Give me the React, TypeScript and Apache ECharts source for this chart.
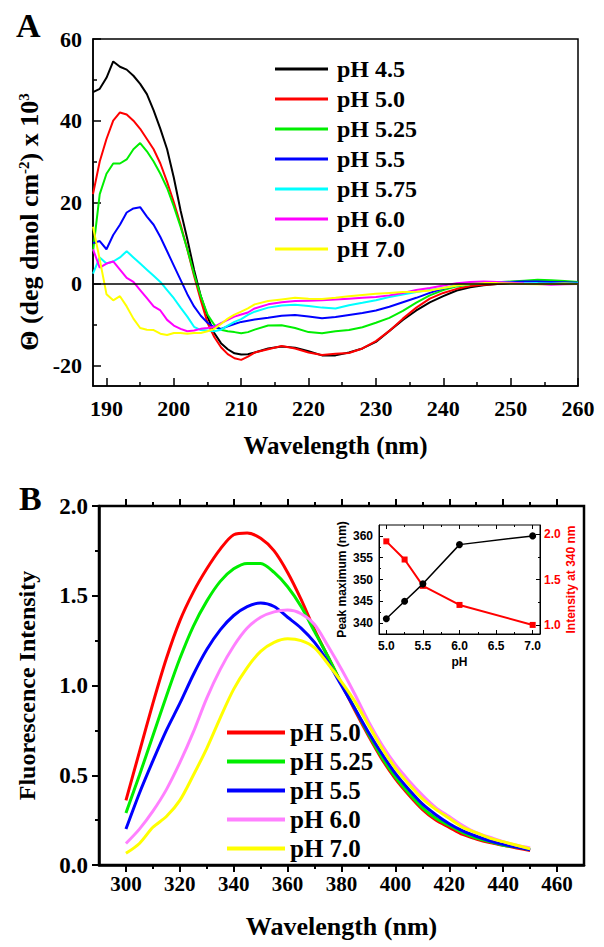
import React, { useEffect, useRef } from 'react';
import * as echarts from 'echarts';

// ---------- Panel A: CD spectra ----------
const cdWavelength = [188, 189, 190, 191, 192, 193, 194, 195, 196, 197, 198, 199, 200, 201, 202, 203, 204, 205, 206, 207, 208, 209, 210, 211, 212,
  214, 216, 218, 220, 222, 224, 226, 228, 230, 232, 234, 236, 238, 240, 242, 244, 246, 248, 250, 252, 254, 256, 258, 260];
const cdPH45 = [47, 47.8, 50.5, 54.5, 53.2, 52.5, 51, 49, 46.5, 42.5, 38, 33, 26, 18, 11, 3.5, -3, -8, -12, -14.5, -16, -17, -17.3, -17.2, -16.8,
  -15.8, -15.3, -15.6, -16.5, -17.5, -17.5, -16.8, -15.8, -14.2, -11.5, -8.8, -6.5, -4.5, -3, -1.6, -0.8, -0.3, 0, 0.2, 0.4, 0.5, 0.4, 0.3, 0.2];
const cdPH50 = [22, 30, 35.5, 40, 42, 41.5, 40, 38, 35.5, 33, 29.5, 25, 20, 14.5, 8.5, 2, -4, -9.5, -13, -15.5, -17.2, -18.2, -18.6, -17.8, -16.8,
  -16, -15.2, -15.8, -16.8, -17.4, -17.1, -16.9, -15.8, -14, -11.5, -8.5, -5.8, -3.6, -2.2, -1.2, -0.5, -0.2, 0, 0.3, 0.5, 0.6, 0.5, 0.4, 0.3];
const cdPH525 = [8, 22, 27, 29.5, 29.5, 30.5, 33, 34.5, 32.5, 30, 27, 23.5, 19, 14, 8.5, 2.5, -3, -7.5, -10, -11.2, -11.6, -11.8, -12.1, -11.8, -11.2,
  -10.2, -10.1, -10.8, -11.8, -12.1, -11.6, -11.3, -10.6, -9.5, -8.3, -6.6, -4.6, -2.8, -1.5, -0.6, -0.1, 0.2, 0.4, 0.6, 0.8, 1.0, 0.9, 0.7, 0.5];
const cdPH55 = [10, 10.5, 8.5, 12, 14.5, 17.5, 18.5, 18.8, 16.5, 14.5, 11.5, 8, 4.5, 1, -2.5, -5.5, -7.8, -9.5, -10.6, -11, -10.4, -9.8, -9.3, -9, -8.7,
  -8.3, -7.8, -7.6, -8, -8.4, -8.1, -7.6, -7.1, -6.5, -5.6, -4.5, -3.4, -2.2, -1.1, -0.3, 0.2, 0.4, 0.5, 0.5, 0.6, 0.6, 0.5, 0.4, 0.3];
const cdPH575 = [2.5, 6.5, 5, 5.5, 6.5, 8, 6.5, 5, 3.5, 2, 0.5, -1.5, -3.5, -5.8, -8, -10.5, -11.3, -11.4, -11.6, -11.2, -10.2, -9.3, -8.6, -7.6, -6.8,
  -5.8, -5.3, -5.1, -5.4, -5.8, -6.0, -5.2, -4.6, -4.0, -3.2, -2.6, -2.0, -1.5, -1.0, -0.4, 0, 0.3, 0.4, 0.3, 0.2, 0.2, 0.1, 0.1, 0.1];
const cdPH60 = [8.5, 4, 5, 5.5, 3.5, 1.5, 0.5, -1.5, -3.5, -5.5, -6.5, -8.8, -10.2, -11, -11.6, -11.4, -11, -10.8, -10.5, -9.6, -8.8, -8.0, -7.5, -7, -6,
  -5, -4.5, -4.2, -4.1, -4, -3.8, -3.6, -3.4, -3.2, -2.8, -2.2, -1.5, -1, -0.4, 0.2, 0.5, 0.6, 0.5, 0.3, 0.1, 0, -0.2, -0.1, 0];
const cdPH70 = [14, 6, -2.5, -4, -3, -5.5, -8.5, -10.8, -11.2, -11.3, -12.2, -12.5, -12, -12, -12.2, -12, -12, -11.6, -11, -9.8, -8.5, -7.5, -6.8, -6, -5,
  -4.2, -3.8, -3.4, -3.6, -3.7, -3.4, -3, -2.7, -2.4, -2.2, -2, -1.9, -1.6, -1, -0.4, 0, 0.2, 0.2, 0.1, 0, -0.1, 0, 0.1, 0];

const cdNames = ['pH 4.5', 'pH 5.0', 'pH 5.25', 'pH 5.5', 'pH 5.75', 'pH 6.0', 'pH 7.0'];
const cdColors = ['#000000', '#ff0000', '#00ee00', '#0000ff', '#00ffff', '#ff00ff', '#ffff00'];
const cdSeries = [cdPH45, cdPH50, cdPH525, cdPH55, cdPH575, cdPH60, cdPH70];

const aXTicks = [190, 200, 210, 220, 230, 240, 250, 260];
const aXMinor = [195, 205, 215, 225, 235, 245, 255];
const aYTicks = [-20, 0, 20, 40, 60];
const aYMinor = [-10, 10, 30, 50];

// ---------- Panel B: fluorescence ----------
const flWavelength = [300, 305, 310, 315, 320, 325, 330, 335, 340, 345, 350, 355, 360, 365, 370, 375, 380, 385, 390, 395, 400,
  405, 410, 415, 420, 425, 430, 435, 440, 445, 450];
const flPH50 = [0.36, 0.63, 0.90, 1.15, 1.36, 1.52, 1.65, 1.76, 1.84, 1.85, 1.82, 1.75, 1.63, 1.48, 1.31, 1.16, 1.01, 0.86, 0.72, 0.59, 0.48,
  0.39, 0.31, 0.25, 0.21, 0.17, 0.145, 0.125, 0.11, 0.095, 0.08];
const flPH525 = [0.29, 0.50, 0.72, 0.94, 1.15, 1.33, 1.47, 1.58, 1.65, 1.68, 1.68, 1.63, 1.55, 1.44, 1.30, 1.16, 1.01, 0.87, 0.73, 0.60, 0.49,
  0.40, 0.32, 0.26, 0.22, 0.18, 0.15, 0.13, 0.11, 0.10, 0.085];
const flPH55 = [0.20, 0.40, 0.58, 0.75, 0.90, 1.06, 1.20, 1.31, 1.39, 1.44, 1.46, 1.44, 1.38, 1.32, 1.24, 1.13, 1.00, 0.87, 0.74, 0.62, 0.51,
  0.42, 0.34, 0.28, 0.23, 0.19, 0.16, 0.135, 0.115, 0.10, 0.085];
const flPH60 = [0.12, 0.20, 0.30, 0.42, 0.57, 0.74, 0.93, 1.09, 1.22, 1.32, 1.38, 1.41, 1.42, 1.40, 1.34, 1.22, 1.09, 0.95, 0.80, 0.67, 0.56,
  0.47, 0.39, 0.32, 0.27, 0.22, 0.18, 0.155, 0.13, 0.11, 0.095];
const flPH70 = [0.065, 0.12, 0.21, 0.27, 0.36, 0.50, 0.65, 0.82, 0.98, 1.10, 1.19, 1.24, 1.26, 1.25, 1.21, 1.12, 1.02, 0.91, 0.78, 0.65, 0.54,
  0.45, 0.37, 0.31, 0.26, 0.21, 0.18, 0.15, 0.13, 0.11, 0.09];

// trailing space keeps the B legend separate from the A legend
const flNames = ['pH 5.0 ', 'pH 5.25 ', 'pH 5.5 ', 'pH 6.0 ', 'pH 7.0 '];
const flColors = ['#ff0000', '#00ee00', '#0000ff', '#ff80ff', '#ffff00'];
const flSeries = [flPH50, flPH525, flPH55, flPH60, flPH70];

const bXTicks = [300, 320, 340, 360, 380, 400, 420, 440, 460];
const bXMinor = [310, 330, 350, 370, 390, 410, 430, 450];
const bYTicks = [0, 0.5, 1.0, 1.5, 2.0];
const bYMinor = [0.25, 0.75, 1.25, 1.75];

// ---------- Inset ----------
const insetPH = [5.0, 5.25, 5.5, 6.0, 7.0];
const insetPeakMax = [341, 345, 349, 358, 360];
const insetIntensity340 = [1.92, 1.72, 1.43, 1.22, 1.0];

const iXTicks = [5.0, 5.5, 6.0, 6.5, 7.0];
const iXMinor = [5.25, 5.75, 6.25, 6.75];
const iYTicks = [340, 345, 350, 355, 360];
const iYMinor = [342.5, 347.5, 352.5, 357.5];
const iRTicks = [1.0, 1.5, 2.0];
const iRMinor = [1.25, 1.75];

const serif = '"Liberation Serif", "Times New Roman", serif';
const sans = '"Liberation Sans", Arial, sans-serif';
const fmt1 = (v: number) => Number(v).toFixed(1);

function tickAxis(base: any, ticks: number[], len: number, inside: boolean, width: number) {
  return {
    type: 'value',
    ...base,
    axisLine: { show: false, onZero: false },
    axisTick: { show: true, inside, length: len, customValues: ticks, lineStyle: { color: '#000', width } },
    axisLabel: { show: false },
    splitLine: { show: false },
  };
}

function buildOption(): any {
  const xAxis: any[] = [
    // 0: A main
    {
      type: 'value', gridIndex: 0, min: 188, max: 260, position: 'bottom',
      axisLine: { show: true, onZero: false, lineStyle: { color: '#000', width: 1.5 } },
      axisTick: { show: true, inside: true, length: 8, customValues: aXTicks, lineStyle: { color: '#000', width: 1.5 } },
      axisLabel: { customValues: aXTicks, margin: 11, color: '#000', fontFamily: serif, fontWeight: 'bold', fontSize: 22 },
      splitLine: { show: false },
      name: 'Wavelength (nm)', nameLocation: 'middle', nameGap: 47,
      nameTextStyle: { color: '#000', fontFamily: serif, fontWeight: 'bold', fontSize: 25 },
    },
    // 1: A minor
    tickAxis({ gridIndex: 0, min: 188, max: 260, position: 'bottom' }, aXMinor, 4, true, 1.5),
    // 2: B main
    {
      type: 'value', gridIndex: 1, min: 290, max: 470, position: 'bottom',
      axisLine: { show: true, onZero: false, lineStyle: { color: '#000', width: 2.5 } },
      axisTick: { show: true, inside: false, length: 7, customValues: bXTicks, lineStyle: { color: '#000', width: 2 } },
      axisLabel: { customValues: bXTicks, margin: 8, color: '#000', fontFamily: serif, fontWeight: 'bold', fontSize: 21 },
      splitLine: { show: false },
      name: 'Wavelength (nm)', nameLocation: 'middle', nameGap: 48,
      nameTextStyle: { color: '#000', fontFamily: serif, fontWeight: 'bold', fontSize: 26 },
    },
    // 3: B minor bottom
    tickAxis({ gridIndex: 1, min: 290, max: 470, position: 'bottom' }, bXMinor, 4, false, 2),
    // 4: B top major
    tickAxis({ gridIndex: 1, min: 290, max: 470, position: 'top' }, bXTicks, 7, false, 2),
    // 5: B top minor
    tickAxis({ gridIndex: 1, min: 290, max: 470, position: 'top' }, bXMinor, 4, false, 2),
    // 6: inset main
    {
      type: 'value', gridIndex: 2, min: 4.9, max: 7.1, position: 'bottom',
      axisLine: { show: true, onZero: false, lineStyle: { color: '#000', width: 1 } },
      axisTick: { show: true, inside: true, length: 4, customValues: iXTicks, lineStyle: { color: '#000', width: 1 } },
      axisLabel: { customValues: iXTicks, formatter: fmt1, margin: 6, color: '#000', fontFamily: sans, fontWeight: 'bold', fontSize: 12 },
      splitLine: { show: false },
      name: 'pH', nameLocation: 'middle', nameGap: 22,
      nameTextStyle: { color: '#000', fontFamily: sans, fontWeight: 'bold', fontSize: 12 },
    },
    // 7: inset minor bottom
    tickAxis({ gridIndex: 2, min: 4.9, max: 7.1, position: 'bottom' }, iXMinor, 2, true, 1),
    // 8: inset top major
    tickAxis({ gridIndex: 2, min: 4.9, max: 7.1, position: 'top' }, iXTicks, 4, true, 1),
    // 9: inset top minor
    tickAxis({ gridIndex: 2, min: 4.9, max: 7.1, position: 'top' }, iXMinor, 2, true, 1),
  ];

  const yAxis: any[] = [
    // 0: A main (title drawn as graphic text below)
    {
      type: 'value', gridIndex: 0, min: -25, max: 60, position: 'left',
      axisLine: { show: true, onZero: false, lineStyle: { color: '#000', width: 1.5 } },
      axisTick: { show: true, inside: true, length: 8, customValues: aYTicks, lineStyle: { color: '#000', width: 1.5 } },
      axisLabel: { customValues: aYTicks, margin: 11, color: '#000', fontFamily: serif, fontWeight: 'bold', fontSize: 22 },
      splitLine: { show: false },
    },
    // 1: A minor
    tickAxis({ gridIndex: 0, min: -25, max: 60, position: 'left' }, aYMinor, 4, true, 1.5),
    // 2: B main
    {
      type: 'value', gridIndex: 1, min: 0, max: 2, position: 'left',
      axisLine: { show: true, onZero: false, lineStyle: { color: '#000', width: 2.5 } },
      axisTick: { show: true, inside: false, length: 7, customValues: bYTicks, lineStyle: { color: '#000', width: 2 } },
      axisLabel: { customValues: bYTicks, formatter: fmt1, margin: 11, color: '#000', fontFamily: serif, fontWeight: 'bold', fontSize: 23 },
      splitLine: { show: false },
      name: 'Fluorescence Intensity', nameLocation: 'middle', nameGap: 60, nameRotate: 90,
      nameTextStyle: { color: '#000', fontFamily: serif, fontWeight: 'bold', fontSize: 24 },
    },
    // 3: B minor
    tickAxis({ gridIndex: 1, min: 0, max: 2, position: 'left' }, bYMinor, 4, false, 2),
    // 4: inset left
    {
      type: 'value', gridIndex: 2, min: 337.5, max: 362.5, position: 'left',
      axisLine: { show: true, onZero: false, lineStyle: { color: '#000', width: 1 } },
      axisTick: { show: true, inside: true, length: 4, customValues: iYTicks, lineStyle: { color: '#000', width: 1 } },
      axisLabel: { customValues: iYTicks, margin: 6, color: '#000', fontFamily: sans, fontWeight: 'bold', fontSize: 12 },
      splitLine: { show: false },
      name: 'Peak maximum (nm)', nameLocation: 'middle', nameGap: 31, nameRotate: 90,
      nameTextStyle: { color: '#000', fontFamily: sans, fontWeight: 'bold', fontSize: 12 },
    },
    // 5: inset left minor
    tickAxis({ gridIndex: 2, min: 337.5, max: 362.5, position: 'left' }, iYMinor, 2, true, 1),
    // 6: inset right
    {
      type: 'value', gridIndex: 2, min: 0.9, max: 2.1, position: 'right',
      axisLine: { show: true, onZero: false, lineStyle: { color: '#000', width: 1 } },
      axisTick: { show: true, inside: true, length: 4, customValues: iRTicks, lineStyle: { color: '#000', width: 1 } },
      axisLabel: { customValues: iRTicks, formatter: fmt1, margin: 4, color: '#ff0000', fontFamily: sans, fontWeight: 'bold', fontSize: 12 },
      splitLine: { show: false },
      name: 'Intensity at 340 nm', nameLocation: 'middle', nameGap: 24, nameRotate: 90,
      nameTextStyle: { color: '#ff0000', fontFamily: sans, fontWeight: 'bold', fontSize: 12 },
    },
    // 7: inset right minor
    tickAxis({ gridIndex: 2, min: 0.9, max: 2.1, position: 'right' }, iRMinor, 2, true, 1),
  ];

  const series: any[] = [];
  cdSeries.forEach((vals, k) => {
    series.push({
      type: 'line', name: cdNames[k], xAxisIndex: 0, yAxisIndex: 0,
      data: cdWavelength.map((w, i) => [w, vals[i]]),
      symbol: 'none', showSymbol: false, z: 3,
      lineStyle: { color: cdColors[k], width: 2 }, itemStyle: { color: cdColors[k] },
      ...(k === 0 ? {
        markLine: {
          silent: true, symbol: ['none', 'none'], label: { show: false },
          lineStyle: { color: '#000', width: 1.5, type: 'solid' },
          data: [{ yAxis: 0 }],
        },
      } : {}),
    });
  });
  flSeries.forEach((vals, k) => {
    series.push({
      type: 'line', name: flNames[k], xAxisIndex: 2, yAxisIndex: 2,
      data: flWavelength.map((w, i) => [w, vals[i]]),
      symbol: 'none', showSymbol: false, smooth: 0.3, z: 3,
      lineStyle: { color: flColors[k], width: 3 }, itemStyle: { color: flColors[k] },
    });
  });
  series.push({
    type: 'line', name: 'Peak maximum', xAxisIndex: 6, yAxisIndex: 4,
    data: insetPH.map((p, i) => [p, insetPeakMax[i]]),
    symbol: 'circle', symbolSize: 7, z: 5,
    lineStyle: { color: '#000', width: 1.5 }, itemStyle: { color: '#000' },
  });
  series.push({
    type: 'line', name: 'Intensity at 340 nm', xAxisIndex: 6, yAxisIndex: 6,
    data: insetPH.map((p, i) => [p, insetIntensity340[i]]),
    symbol: 'rect', symbolSize: 6, z: 4,
    lineStyle: { color: '#ff0000', width: 2 }, itemStyle: { color: '#ff0000' },
  });

  return {
    animation: false,
    backgroundColor: '#ffffff',
    grid: [
      { left: 93, top: 39, width: 485, height: 347, show: true, borderColor: '#000', borderWidth: 1.5, backgroundColor: 'transparent' },
      { left: 99, top: 506, width: 485, height: 359, show: true, borderColor: '#000', borderWidth: 2.5, backgroundColor: 'transparent' },
      { left: 379, top: 525, width: 161, height: 109, show: true, borderColor: '#000', borderWidth: 1, backgroundColor: 'transparent' },
    ],
    xAxis,
    yAxis,
    legend: [
      {
        orient: 'vertical', left: 270, top: 52, itemWidth: 53, itemHeight: 3, itemGap: 6, icon: 'rect',
        data: cdNames, selectedMode: false,
        textStyle: { color: '#000', fontFamily: serif, fontWeight: 'bold', fontSize: 24, lineHeight: 22, padding: [0, 0, 0, 4] },
      },
      {
        orient: 'vertical', left: 222, top: 715, itemWidth: 58, itemHeight: 4, itemGap: 4, icon: 'rect',
        data: flNames, selectedMode: false,
        textStyle: { color: '#000', fontFamily: serif, fontWeight: 'bold', fontSize: 25, lineHeight: 24, padding: [0, 0, 0, 0] },
      },
    ],
    graphic: [
      { type: 'text', left: 16, top: 8, style: { text: 'A', fill: '#000', font: `bold 34px ${serif}` } },
      { type: 'text', left: 19, top: 481, style: { text: 'B', fill: '#000', font: `bold 34px ${serif}` } },
      {
        type: 'text', x: 29, y: 222, rotation: Math.PI / 2,
        style: {
          text: 'Θ (deg dmol cm{sup|-2}) x 10{sup|3}',
          fill: '#000', fontFamily: serif, fontWeight: 'bold', fontSize: 26,
          align: 'center', verticalAlign: 'middle',
          rich: { sup: { fill: '#000', fontFamily: serif, fontWeight: 'bold', fontSize: 15, verticalAlign: 'top', lineHeight: 13 } },
        },
      },
    ],
    series,
  };
}

export default function App() {
  const ref = useRef<HTMLDivElement>(null);
  useEffect(() => {
    if (!ref.current) return;
    const chart = echarts.init(ref.current, null, { renderer: 'svg' });
    chart.setOption(buildOption());
    return () => chart.dispose();
  }, []);
  return (
    <div
      ref={ref}
      style={{ position: 'absolute', left: 0, top: 0, width: 604, height: 947, background: '#ffffff' }}
    />
  );
}
